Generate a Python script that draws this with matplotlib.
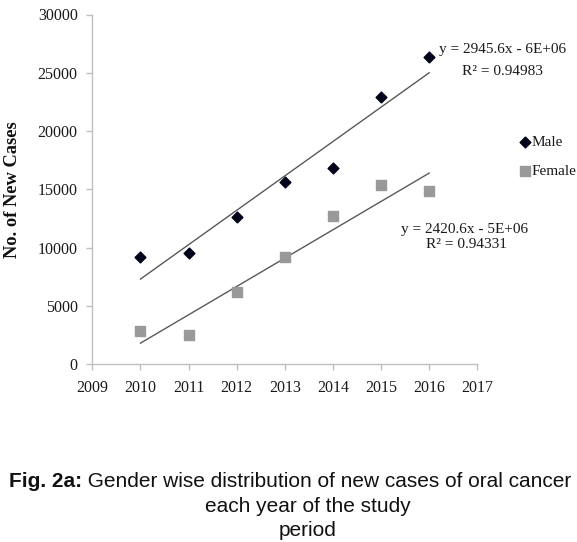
import numpy as np
import matplotlib
matplotlib.use("Agg")
import matplotlib.pyplot as plt

# --- data ---
years = [2010, 2011, 2012, 2013, 2014, 2015, 2016]
male = [9200, 9500, 12580, 15590, 16820, 22920, 26390]
female = [2870, 2490, 6190, 9170, 12720, 15330, 14840]
x_ticks = list(range(2009, 2018))
y_ticks = [0, 5000, 10000, 15000, 20000, 25000, 30000]
male_eq = ["y = 2945.6x - 6E+06", "R\u00b2 = 0.94983"]
female_eq = ["y = 2420.6x - 5E+06", "R\u00b2 = 0.94331"]
caption_bold = "Fig. 2a:"
caption_rest = " Gender wise distribution of new cases of oral cancer"
caption_lines = ["each year of the study", "period"]

W, H = 577, 542
fig = plt.figure(figsize=(W / 100, H / 100), dpi=100)
ax = fig.add_axes([92.3 / W, 1 - 364 / H, 385 / W, 349.5 / H])

serif = "Liberation Serif"
axis_grey = "#bfbfbf"

ax.scatter(years, male, marker="D", s=30, color="#000018", zorder=3, label="Male")
ax.scatter(years, female, marker="s", s=52, color="#999999", zorder=3, label="Female")

# linear trend lines (Excel style, over the data range)
yrs = np.array(years, dtype=float)
for vals in (male, female):
    k, b = np.polyfit(yrs, vals, 1)
    ax.plot(yrs, k * yrs + b, color="#595959", lw=1.0, zorder=2)

ax.set_xlim(2009, 2017)
ax.set_ylim(0, 30000)
ax.set_xticks(x_ticks)
ax.set_yticks(y_ticks)
for s in ("top", "right"):
    ax.spines[s].set_visible(False)
for s in ("left", "bottom"):
    ax.spines[s].set_color(axis_grey)
    ax.spines[s].set_linewidth(1.0)
ax.tick_params(axis="both", colors=axis_grey, length=4.5, width=1.0, labelcolor="#1a1a1a")
ax.tick_params(axis="y", pad=6)
ax.tick_params(axis="x", pad=7)
for lab in ax.get_xticklabels() + ax.get_yticklabels():
    lab.set_fontfamily(serif)
    lab.set_fontsize(11.5)

ax.set_ylabel("No. of New Cases", fontfamily=serif, fontsize=13.3, fontweight="bold", color="#111111")
ax.yaxis.set_label_coords(-0.185, 0.5)

def ftext(x, y, s, **kw):
    fig.text(x / W, 1 - y / H, s, ha="center", va="baseline", fontfamily=serif,
             fontsize=11, color="#1a1a1a", **kw)

ftext(502.5, 53, male_eq[0])
ftext(502, 75, male_eq[1])
ftext(465, 233, female_eq[0])
ftext(466, 248, female_eq[1])

leg = ax.legend(loc="upper left", bbox_to_anchor=(521 / W, 1 - 135 / H),
                bbox_transform=fig.transFigure, frameon=False,
                handlelength=0.5, handletextpad=0.2, labelspacing=1.05,
                borderpad=0, borderaxespad=0,
                prop={"family": serif, "size": 11})
for t in leg.get_texts():
    t.set_color("#1a1a1a")

# caption
cap_font = "Liberation Sans"
cap_size = 15
t1 = fig.text(9 / W, 1 - 487 / H, caption_bold, fontfamily=cap_font, fontsize=cap_size,
              fontweight="bold", ha="left", va="baseline", color="#111111")
fig.canvas.draw()
bb = t1.get_window_extent()
fig.text(bb.x1 / W, 1 - 487 / H, caption_rest, fontfamily=cap_font, fontsize=cap_size,
         ha="left", va="baseline", color="#111111")
fig.text(308 / W, 1 - 512 / H, caption_lines[0], fontfamily=cap_font, fontsize=cap_size,
         ha="center", va="baseline", color="#111111")
fig.text(308 / W, 1 - 536 / H, caption_lines[1], fontfamily=cap_font, fontsize=cap_size,
         ha="center", va="baseline", color="#111111")

fig.savefig("out.png", dpi=100)
